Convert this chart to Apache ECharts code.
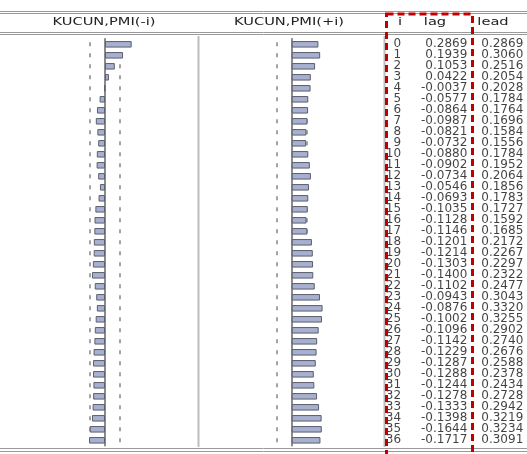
<!DOCTYPE html>
<html>
<head>
<meta charset="utf-8">
<script src="https://cdn.jsdelivr.net/npm/echarts@6/dist/echarts.min.js"></script>
<style>
  html, body { margin: 0; padding: 0; background: #fff; }
  #chart { width: 527px; height: 454px; }
</style>
</head>
<body>
<div id="chart"></div>
<script>
// lag index i
var lags = [0, 1, 2, 3, 4, 5, 6, 7, 8, 9, 10, 11, 12, 13, 14, 15, 16, 17, 18,
  19, 20, 21, 22, 23, 24, 25, 26, 27, 28, 29, 30, 31, 32, 33, 34, 35, 36];

// KUCUN,PMI(-i)
var lagVals = [0.2869, 0.1939, 0.1053, 0.0422, -0.0037, -0.0577, -0.0864, -0.0987,
  -0.0821, -0.0732, -0.0880, -0.0902, -0.0734, -0.0546, -0.0693, -0.1035, -0.1128,
  -0.1146, -0.1201, -0.1214, -0.1303, -0.1400, -0.1102, -0.0943, -0.0876, -0.1002,
  -0.1096, -0.1142, -0.1229, -0.1287, -0.1288, -0.1244, -0.1278, -0.1333, -0.1398,
  -0.1644, -0.1717];

// KUCUN,PMI(+i)
var leadVals = [0.2869, 0.3060, 0.2516, 0.2054, 0.2028, 0.1784, 0.1764, 0.1696,
  0.1584, 0.1556, 0.1784, 0.1952, 0.2064, 0.1856, 0.1783, 0.1727, 0.1592, 0.1685,
  0.2172, 0.2267, 0.2297, 0.2322, 0.2477, 0.3043, 0.3320, 0.3255, 0.2902, 0.2740,
  0.2676, 0.2588, 0.2378, 0.2434, 0.2728, 0.2942, 0.3219, 0.3234, 0.3091];

// approx. 2 s.e. band
var band = 0.16;

var panelTitles = ["KUCUN,PMI(-i)", "KUCUN,PMI(+i)"];
var tableCols = ["i", "lag", "lead"];

var chart = echarts.init(document.getElementById("chart"), null, { renderer: "canvas" });

var rowTop = 38.8;
var rowH = 407;   // 37 rows x 11px
var barColor = "#a8b0cf";
var ruleColor = "#9a9a9a";
var numFont = "DejaVu Sans";

function valueX(idx) {
  return { type: "value", gridIndex: idx, min: -0.4, max: 0.4, show: false };
}
function catY(idx, showZero) {
  return {
    type: "category", gridIndex: idx, data: lags, inverse: true,
    axisLine: { show: showZero, onZero: true, lineStyle: { color: "#666", width: 1.5 } },
    axisTick: { show: false }, axisLabel: { show: false }, splitLine: { show: false },
  };
}
// invisible carrier series, only there to hold the dashed band lines under the bars
function bandSeries(idx, vals) {
  return {
    type: "line", xAxisIndex: idx, yAxisIndex: idx, data: vals, z: 1, silent: true,
    symbol: "none", lineStyle: { opacity: 0 },
    markLine: {
      silent: true, symbol: "none", z: 1,
      label: { show: false },
      // one short dash per row
      lineStyle: { color: "#858585", width: 1.5, type: [4, 7], dashOffset: 7.5 },
      data: [{ xAxis: -band }, { xAxis: band }],
    },
  };
}
function barSeries(idx, vals) {
  return {
    type: "bar", xAxisIndex: idx, yAxisIndex: idx, data: vals, z: 10,
    barWidth: 6.5, silent: true,
    itemStyle: { color: barColor, borderColor: "#5c5f6e", borderWidth: 1 },
  };
}
function colSeries(col, vals, fmt, dx) {
  return {
    type: "scatter", xAxisIndex: 2, yAxisIndex: 2, symbolSize: 0, silent: true,
    data: vals.map(function (v, i) { return [col, i, v]; }),
    encode: { x: 0, y: 1 },
    label: {
      show: true, position: "inside", align: "right", verticalAlign: "middle",
      offset: [dx, 0], color: "#111", fontFamily: numFont, fontSize: 12,
      formatter: function (p) { return fmt(p.value[2]); },
    },
  };
}

function hline(y) {
  return { type: "line", silent: true, shape: { x1: 0, y1: y, x2: 527, y2: y },
    style: { stroke: ruleColor, lineWidth: 1 } };
}
function vline(x) {
  return { type: "line", silent: true, shape: { x1: x, y1: 36, x2: x, y2: 447 },
    style: { stroke: "#bdbdbd", lineWidth: 2 } };
}
function head(text, x) {
  return { type: "text", x: x, y: 22.5, scaleX: 1.33, silent: true,
    style: { text: text, font: '11px "DejaVu Sans"', fill: "#222",
      align: "center", verticalAlign: "middle" } };
}

var option = {
  backgroundColor: "#fff",
  animation: false,
  grid: [
    { left: 67.8, width: 74.4, top: rowTop, height: rowH },
    { left: 254.5, width: 74.4, top: rowTop, height: rowH },
    { left: 386, width: 140, top: rowTop, height: rowH },
  ],
  xAxis: [
    valueX(0),
    valueX(1),
    { type: "category", gridIndex: 2, data: tableCols, show: false },
  ],
  yAxis: [catY(0, true), catY(1, true), catY(2, false)],
  series: [
    bandSeries(0, lagVals),
    bandSeries(1, leadVals),
    barSeries(0, lagVals),
    barSeries(1, leadVals),
    colSeries(0, lags, function (v) { return String(v); }, -8.3),
    colSeries(1, lagVals, function (v) { return v.toFixed(4); }, 11.3),
    colSeries(2, leadVals, function (v) { return v.toFixed(4); }, 20.6),
  ],
  graphic: [
    hline(11.5), hline(13.5), hline(32.5), hline(34.5), hline(448.5), hline(451.5),
    vline(198.5), vline(384.5),
    head(panelTitles[0], 104), head(panelTitles[1], 289),
    head(tableCols[0], 400), head(tableCols[1], 435), head(tableCols[2], 493),
    { type: "rect", silent: true, z: 100,
      shape: { x: 386.5, y: 14, width: 86, height: 460 },
      style: { fill: null, stroke: "#c00000", lineWidth: 3, lineDash: [7, 4] } },
  ],
};

chart.setOption(option);
</script>
</body>
</html>
